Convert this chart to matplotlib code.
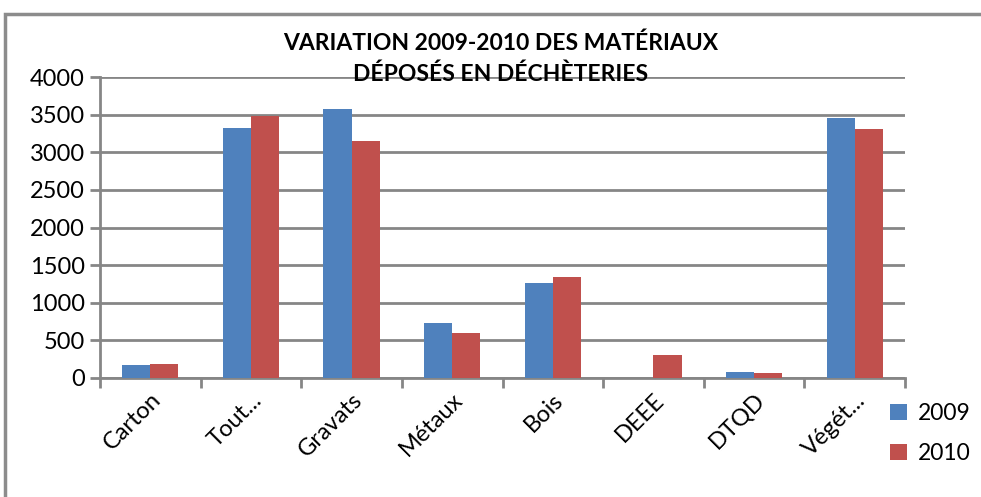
import matplotlib
matplotlib.use('Agg')
import matplotlib.pyplot as plt
import numpy as np
from matplotlib.patches import Rectangle

plt.rcParams['font.family'] = ['Lato', 'DejaVu Sans']

# data
categories = ['Carton', 'Tout...', 'Gravats', 'Métaux', 'Bois', 'DEEE', 'DTQD', 'Végét...']
vals_2009 = [173, 3318, 3579, 735, 1262, 0, 84, 3459]
vals_2010 = [182, 3482, 3154, 600, 1342, 301, 70, 3305]
yticks = [0, 500, 1000, 1500, 2000, 2500, 3000, 3500, 4000]

blue = '#4F81BD'
red = '#C0504D'
grey = '#868686'

fig = plt.figure(figsize=(9.81, 4.97), dpi=100)
ax = fig.add_axes([100/981, 119/497, 805/981, 301/497])

x = np.arange(len(categories))
w = 0.28
ax.bar(x - w/2, vals_2009, w, color=blue, label='2009', zorder=3)
ax.bar(x + w/2, vals_2010, w, color=red, label='2010', zorder=3)

ax.set_xlim(-0.5, len(categories) - 0.5)
ax.set_ylim(0, 4000)
ax.set_yticks(yticks)
ax.set_yticklabels([str(t) for t in yticks], fontsize=17)
ax.yaxis.grid(True, color=grey, lw=2, zorder=0)

# category ticks at boundaries, labels at centres
ax.set_xticks(np.arange(len(categories) + 1) - 0.5)
ax.set_xticklabels([])
ax.set_xticks(x, minor=True)
ax.set_xticklabels(categories, minor=True, rotation=45, ha='right',
                   rotation_mode='anchor', fontsize=17)
ax.tick_params(axis='x', which='minor', length=0, pad=8)
ax.tick_params(axis='x', which='major', length=7, width=2, color=grey)
ax.tick_params(axis='y', length=7, width=2, color=grey, pad=4)

for s in ['top', 'right']:
    ax.spines[s].set_visible(False)
for s in ['left', 'bottom']:
    ax.spines[s].set_color(grey)
    ax.spines[s].set_linewidth(2)

fig.text(0.51, 1 - 43/497, 'VARIATION 2009-2010 DES MATÉRIAUX', ha='center',
         va='center', fontsize=16.5, fontweight='bold')
fig.text(0.51, 1 - 74/497, 'DÉPOSÉS EN DÉCHÈTERIES', ha='center',
         va='center', fontsize=16.5, fontweight='bold')

ax.legend(loc='upper left', bbox_to_anchor=(879/981, 1 - 392/497),
          bbox_transform=fig.transFigure, frameon=False, fontsize=16.5,
          handlelength=0.7, handleheight=0.7, handletextpad=0.5,
          labelspacing=0.8, borderpad=0)

# outer chart border
fig.patches.append(Rectangle((5/981, -0.05), 1.2, 1 - 14/497 + 0.05,
                             transform=fig.transFigure, fill=False,
                             edgecolor='#8C8C8C', lw=2.5))

fig.savefig('out.png', dpi=100)
